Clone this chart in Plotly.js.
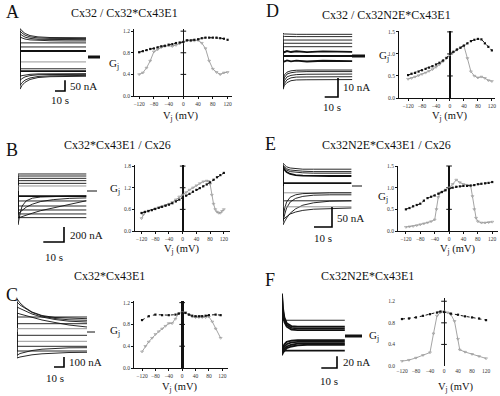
<!DOCTYPE html>
<html><head><meta charset="utf-8">
<script src="https://cdn.plot.ly/plotly-3.0.1.min.js"></script>
<style>html,body{margin:0;padding:0;background:#fff}#plot{width:500px;height:396px}</style>
</head><body><div id="plot"></div>
<script>
// ---------------- DATA ----------------
const V10 = [-120,-110,-100,-90,-80,-70,-60,-50,-40,-30,-20,-10,0,10,20,30,40,50,60,70,80,90,100,110,120];
const VTICKS = [-120,-80,-40,0,40,80,120];

// Panel A : Cx32 / Cx32*Cx43E1
const A_gBlack = [0.81,0.83,0.85,0.87,0.88,0.90,0.92,0.93,0.95,0.96,0.98,0.99,1.00,1.03,1.03,1.04,1.05,1.07,1.08,1.08,1.08,1.08,1.07,1.06,1.04];
const A_gGray  = [0.40,0.43,0.52,0.65,0.82,0.86,0.90,0.92,0.93,0.92,0.94,0.97,1.00,1.03,1.02,1.02,1.03,0.98,0.88,0.65,0.50,0.44,0.40,0.43,0.44];
// Panel D : Cx32 / Cx32N2E*Cx43E1
const D_gBlack = [0.52,0.55,0.57,0.60,0.63,0.66,0.69,0.72,0.76,0.80,0.85,0.91,1.00,1.05,1.10,1.14,1.19,1.24,1.29,1.32,1.34,1.33,1.24,1.16,1.08];
const D_gGray  = [0.43,0.45,0.48,0.51,0.54,0.57,0.61,0.65,0.70,0.76,0.83,0.90,0.99,1.04,1.09,1.14,1.18,0.90,0.60,0.50,0.46,0.48,0.45,0.40,0.38];
// Panel B : Cx32*Cx43E1 / Cx26
const B_gBlack = [0.50,0.53,0.55,0.58,0.61,0.64,0.67,0.70,0.73,0.77,0.82,0.87,0.93,0.98,1.03,1.09,1.14,1.19,1.24,1.29,1.35,1.42,1.49,1.55,1.61];
const B_vGray  = [-120,-115,-110,-100,-90,-80,-70,-60,-50,-40,-30,-20,-10,0,10,20,30,40,50,60,70,75,80,85,90,95,100,105,110,115,120];
const B_gGray  = [0.35,0.45,0.52,0.56,0.58,0.62,0.65,0.68,0.71,0.75,0.80,0.87,0.95,1.00,1.07,1.14,1.20,1.26,1.32,1.37,1.39,1.38,1.30,1.00,0.75,0.60,0.53,0.50,0.50,0.55,0.60];
// Panel E : Cx32N2E*Cx43E1 / Cx26
const E_gBlack = [0.50,0.53,0.57,0.60,0.63,0.70,0.76,0.79,0.82,0.86,0.90,0.94,0.97,1.00,1.02,1.03,1.04,1.04,1.05,1.06,1.08,1.09,1.10,1.11,1.13];
const E_vGray  = [-120,-110,-100,-90,-80,-70,-60,-50,-40,-35,-30,-25,-20,-10,0,10,20,30,40,50,60,65,70,75,80,90,100,110,120];
const E_gGray  = [0.09,0.10,0.11,0.13,0.15,0.17,0.19,0.22,0.26,0.50,0.78,0.88,0.90,0.95,1.00,1.08,1.18,1.12,1.08,1.06,1.04,0.80,0.50,0.30,0.22,0.19,0.19,0.20,0.21];
// Panel C : Cx32*Cx43E1
const C_vBlack = [-120,-100,-80,-60,-40,-20,-10,0,10,20,30,40,50,60,70,80,100,115];
const C_gBlack = [0.88,0.95,0.98,0.97,0.97,0.98,1.00,1.01,1.01,0.98,0.96,0.95,0.95,0.95,0.96,0.97,0.98,0.97];
const C_vGray  = [-120,-110,-100,-90,-80,-70,-60,-50,-40,-30,-20,-10,0,10,20,30,40,50,60,70,80,90,100,115];
const C_gGray  = [0.30,0.40,0.48,0.55,0.62,0.67,0.72,0.77,0.82,0.82,0.90,1.00,1.02,1.02,0.98,0.94,0.93,0.93,0.93,0.93,0.94,0.85,0.72,0.55];
// Panel F : Cx32N2E*Cx43E1
const F_vBlack = [-120,-100,-80,-60,-40,-20,-10,0,20,40,60,80,100,120];
const F_gBlack = [0.87,0.88,0.90,0.93,0.96,0.99,1.01,1.00,0.97,0.95,0.92,0.90,0.88,0.85];
const F_vGray  = [-120,-100,-80,-60,-40,-30,-20,-10,0,10,20,30,40,45,60,80,100,120];
const F_gGray  = [0.09,0.11,0.15,0.20,0.25,0.60,0.93,0.99,1.01,0.99,0.95,0.83,0.50,0.30,0.26,0.22,0.18,0.14];

// Current traces (time in s, current in nA)
const tA = [0,2,5,10,18,30,45,66];
const iA = [
 [133,122,110,100,94,91,90,90],
 [122,112,102,94,89,87,86,86],
 [109,101,93,87,83,82,81,81],
 [94,89,84,80,77,76,75,75],
 [66,66,66,66,66,66,66,66],
 [47,47,47,47,47,47,47,47],
 [28,28,28,28,28,28,28,28],
 [-23,-23,-23,-23,-23,-23,-23,-23],
 [-55,-55,-55,-55,-55,-55,-55,-55],
 [-66,-66,-66,-66,-66,-66,-66,-66],
 [-90,-87,-84,-81,-79,-78,-78,-78],
 [-109,-101,-93,-87,-83,-82,-81,-81],
 [-133,-120,-108,-98,-91,-88,-86,-86],
 [-150,-133,-118,-105,-96,-92,-90,-90]
];
const tD = [0,1,3,6,10,18,30,52];
const iD = [
 [11.9,11.6,11.5,11.4,11.4,11.4,11.4,11.4],
 [10.4,10.3,10.2,10.2,10.2,10.2,10.2,10.2],
 [8.4,8.4,8.4,8.4,8.4,8.4,8.4,8.4],
 [6.7,6.7,6.7,6.7,6.7,6.7,6.7,6.7],
 [4.9,4.9,4.9,4.9,4.9,4.9,4.9,4.9],
 [2.3,2.0,2.6,2.1,2.5,2.0,2.4,2.2],
 [0,0,0,0,0,0,0,0],
 [-2.6,-2.9,-2.3,-2.8,-2.4,-2.9,-2.5,-2.7],
 [-13.5,-10.0,-8.5,-7.8,-7.5,-7.4,-7.4,-7.4],
 [-15.0,-11.5,-9.5,-8.8,-8.4,-8.2,-8.2,-8.2],
 [-16.5,-13.0,-11.0,-10.2,-9.8,-9.6,-9.5,-9.5],
 [-17.0,-14.5,-12.5,-11.5,-11.1,-11.0,-10.9,-10.9],
 [-17.5,-15.5,-14.0,-13.0,-12.6,-12.5,-12.4,-12.4]
];
const tB = [0,1,2,4,7,11,17,25,33];
const iB = [
 [227,227,227,227,227,227,227,227,227],
 [200,200,200,200,200,200,200,200,200],
 [169,169,169,169,169,169,169,169,169],
 [138,138,138,138,138,138,138,138,138],
 [102,102,102,102,102,102,102,102,102],
 [67,67,67,67,67,67,67,67,67],
 [-67,-67,-67,-67,-67,-67,-67,-67,-67],
 [-133,-133,-133,-133,-133,-133,-133,-133,-133],
 [-200,-200,-200,-200,-200,-200,-200,-200,-200],
 [-253,-253,-253,-253,-253,-253,-253,-253,-253],
 [-306,-306,-306,-306,-306,-306,-306,-306,-306],
 [-355,-355,-355,-355,-355,-355,-355,-355,-355],
 [-450,-300,-200,-130,-95,-80,-72,-68,-67],
 [-310,-280,-255,-215,-175,-140,-115,-98,-92],
 [-360,-350,-340,-320,-295,-262,-225,-185,-130]
];
const tE = [0,1,2,4,7,11,17,26,38];
const iE = [
 [57,52,48,45,43,42,42,42,42],
 [52,47,43,40,38,37,36,36,36],
 [50,44,40,36,34,33,32,32,32],
 [47,40,35,30,27,26,25,25,25],
 [7,7,7,7,7,7,7,7,7],
 [-17,-17,-17,-17,-17,-17,-17,-17,-17],
 [-77,-55,-40,-28,-22,-19,-18,-17,-17],
 [-89,-70,-55,-40,-31,-26,-23,-22,-22],
 [-97,-88,-80,-68,-57,-48,-42,-38,-37],
 [-37,-37,-37,-37,-37,-37,-37,-37,-37],
 [-52,-52,-52,-52,-52,-52,-52,-52,-52],
 [-85,-80,-76,-70,-65,-61,-58,-56,-55]
];
const tC = [0,3,8,15,25,38,52,70];
const iC = [
 [333,290,245,200,165,145,137,133],
 [300,270,235,195,160,135,122,117],
 [250,235,210,180,150,125,108,100],
 [190,180,165,145,120,95,70,50],
 [150,150,150,150,150,150,150,150],
 [83,83,83,83,83,83,83,83],
 [33,33,33,33,33,33,33,33],
 [-33,-33,-33,-33,-33,-33,-33,-33],
 [-93,-93,-93,-93,-93,-93,-93,-93],
 [-143,-143,-143,-143,-143,-143,-143,-143],
 [-190,-190,-190,-190,-190,-190,-190,-190],
 [-233,-215,-200,-185,-172,-163,-158,-157],
 [-260,-250,-240,-228,-218,-210,-205,-203]
];
const tF = [0,0.5,1.5,3,6,10,16,25,40];
const iF = [
 [27,27,27,27,27,27,27,27,27],
 [73,50,32,22,17,16,16,16,16],
 [70,45,28,19,14,13,13,13,13],
 [65,40,24,16,11,10,10,10,10],
 [-27,-20,-14,-10,-8,-7,-7,-7,-7],
 [-30,-24,-18,-14,-11,-10,-10,-10,-10],
 [-32,-27,-22,-18,-15,-13,-13,-13,-13],
 [-33,-29,-25,-21,-18,-16,-15,-15,-15],
 [-25,-25,-25,-25,-25,-25,-25,-25,-25]
];

// ---------------- LAYOUT HELPERS ----------------
const W = 500, H = 396;
const FONT = '"Liberation Serif", "DejaVu Serif", serif';
const layout = {width:W, height:H, margin:{l:0,r:0,t:0,b:0}, paper_bgcolor:'#fff',
  plot_bgcolor:'rgba(0,0,0,0)', showlegend:false, annotations:[], shapes:[], hovermode:false};
const data = [];
let axCount = 0;
function addAxes(box, xo, yo){
  axCount++;
  const s = axCount === 1 ? '' : String(axCount);
  layout['xaxis'+s] = Object.assign({domain:[box[0]/W, box[1]/W], anchor:'y'+s, fixedrange:true}, xo);
  layout['yaxis'+s] = Object.assign({domain:[1-box[3]/H, 1-box[2]/H], anchor:'x'+s, fixedrange:true}, yo);
  return {x:'x'+s, y:'y'+s};
}
function note(text, px, py, size, opts){
  layout.annotations.push(Object.assign({text:text, x:px/W, y:1-py/H, xref:'paper', yref:'paper',
    showarrow:false, xanchor:'center', yanchor:'middle', font:{family:FONT, size:size, color:'#111'}}, opts||{}));
}

// ---------------- G-V PANELS ----------------
const gvPanels = [
 {box:[134,232,29,96],  xr:[-134,132], yr:[0,1.24], yt:[0,0.4,0.8,1.2], line:true, zw:1.5,
  vb:V10, gb:A_gBlack, vg:V10, gg:A_gGray, gj:[114,64], vj:[181,116]},
 {box:[399,495,31,98],  xr:[-146,129], yr:[0,1.52], yt:[0,0.5,1.0,1.5], line:true, zw:2,
  vb:V10, gb:D_gBlack, vg:V10, gg:D_gGray, gj:[384,56], vj:[450,117]},
 {box:[135,230,165,231], xr:[-139,138], yr:[0,1.83], yt:[0,0.6,1.2,1.8], line:true, zw:2,
  vb:V10, gb:B_gBlack, vg:B_vGray, gg:B_gGray, gj:[115,189], vj:[182,249]},
 {box:[398,498,166,231], xr:[-142,136], yr:[0,1.5], yt:[0,0.5,1.0,1.5], line:true, zw:1.5,
  vb:V10, gb:E_gBlack, vg:E_vGray, gg:E_gGray, gj:[383,197], vj:[458,250]},
 {box:[134,228,301,368], xr:[-144,137], yr:[0,1.23], yt:[0,0.4,0.8,1.2], line:true, zw:3,
  vb:C_vBlack, gb:C_gBlack, vg:C_vGray, gg:C_gGray, gj:[115,331], vj:[180,387]},
 {box:[396,492,298,366], xr:[-137,137], yr:[0,1.26], yt:[0,0.4,0.8,1.2], line:false, zw:1,
  vb:F_vBlack, gb:F_gBlack, vg:F_vGray, gg:F_gGray, gj:[374,336], vj:[456,387]}
];
const tickFont = {family:FONT, size:5.5, color:'#333'};
gvPanels.forEach(p => {
  const ax = addAxes(p.box,
    {range:p.xr, tickvals:VTICKS, showline:p.line, linecolor:'#111', linewidth:1,
     ticks:p.line?'outside':'', ticklen:2, tickcolor:'#111', tickfont:tickFont, showgrid:false,
     zeroline:true, zerolinecolor:'#111', zerolinewidth:p.zw},
    {range:p.yr, tickvals:p.yt, tickformat:'.1f', showline:p.line, linecolor:'#111', linewidth:1,
     ticks:p.line?'outside':'', ticklen:2, tickcolor:'#111', tickfont:tickFont, showgrid:false,
     zeroline:false});
  data.push({type:'scatter', mode:'markers', x:p.yt.slice(1).map(()=>0), y:p.yt.slice(1),
    xaxis:ax.x, yaxis:ax.y, marker:{symbol:'line-ew', size:4, line:{width:1, color:'#111'}}, cliponaxis:false});
  data.push({type:'scatter', mode:'lines+markers', x:p.vg, y:p.gg, xaxis:ax.x, yaxis:ax.y,
    line:{color:'#9a9a9a', width:0.9}, marker:{symbol:'triangle-down-open', size:2.5, color:'#9a9a9a', line:{width:0.7}}, cliponaxis:false});
  data.push({type:'scatter', mode:'lines+markers', x:p.vb, y:p.gb, xaxis:ax.x, yaxis:ax.y,
    line:{color:'#111', width:1, dash:'dot'}, marker:{symbol:'square', size:2.2, color:'#111'}, cliponaxis:false});
  note('G<sub>j</sub>', p.gj[0], p.gj[1], 11);
  note('V<sub>j</sub> (mV)', p.vj[0], p.vj[1], 10.5);
});

// ---------------- CURRENT TRACE PANELS ----------------
const tracePanels = [
 {t:tA, I:iA, st:'kkkkkktgktkkkk', box:[20,101,25,93], x0:20, pps:1.0, yc:57, ppn:0.214,
  hold:[88,100,3], sb:[65,91], sbI:50, sbT:10, iLab:['50 nA',68,86], tLab:[60,100]},
 {t:tD, I:iD, st:'kkkkktttkkkkk', box:[283,366,30,99], x0:283, pps:1.33, yc:56, ppn:1.9,
  hold:[352,365,3], sb:[338,97], sbI:10, sbT:10, iLab:['10 nA',341,87], tLab:[332,107]},
 {t:tB, I:iB, st:'kkkkkgtkkkkkkkk', box:[18,98,170,244], x0:18, pps:2.07, yc:191, ppn:0.075,
  hold:[87,97,1], sb:[64,242], sbI:200, sbT:10, iLab:['200 nA',68,235], tLab:[54,257]},
 {t:tE, I:iE, st:'kkkttgkkkkgk', box:[283,363,160,229], x0:283, pps:1.8, yc:186, ppn:0.4,
  hold:[352,362,1], sb:[332,227], sbI:50, sbT:10, iLab:['50 nA',335,218], tLab:[323,238]},
 {t:tC, I:iC, st:'kkkkkkgkgkkkk', box:[17,96,296,369], x0:17, pps:1.0, yc:332, ppn:0.1,
  hold:[87,95,1], sb:[64,367], sbI:100, sbT:10, iLab:['100 nA',67,362], tLab:[55,378]},
 {t:tF, I:iF, st:'kttttttttk', box:[282,363,290,370], x0:282, pps:1.57, yc:336, ppn:0.583,
  hold:[345,362,3], sb:[337,368], sbI:20, sbT:10, iLab:['20 nA',341,362], tLab:[329,381]}
];
tracePanels.forEach(p => {
  const xr = [(p.box[0]-p.x0)/p.pps, (p.box[1]-p.x0)/p.pps];
  const yr = [(p.yc-p.box[3])/p.ppn, (p.yc-p.box[2])/p.ppn];
  const ax = addAxes(p.box, {range:xr, visible:false, showgrid:false, zeroline:false},
                            {range:yr, visible:false, showgrid:false, zeroline:false});
  p.I.forEach((vals, k) => {
    const s = p.st[k] || 'k';
    data.push({type:'scatter', mode:'lines', x:[0].concat(p.t), y:[0].concat(vals), xaxis:ax.x, yaxis:ax.y,
      line:{color: s==='g' ? '#8a8a8a' : '#111', width: s==='t' ? 1.8 : 0.9}});
  });
  const h0 = (p.hold[0]-p.x0)/p.pps, h1 = (p.hold[1]-p.x0)/p.pps;
  data.push({type:'scatter', mode:'lines', x:[h0,h1], y:[0,0], xaxis:ax.x, yaxis:ax.y,
    line:{color:'#111', width:p.hold[2]}});
  const ts = (p.sb[0]-p.x0)/p.pps, is = (p.yc-p.sb[1])/p.ppn;
  data.push({type:'scatter', mode:'lines', x:[ts-p.sbT, ts, ts], y:[is, is, is+p.sbI], xaxis:ax.x, yaxis:ax.y,
    line:{color:'#000', width:1.6}});
  note(p.iLab[0], p.iLab[1], p.iLab[2], 11, {xanchor:'left'});
  note('10 s', p.tLab[0], p.tLab[1], 11);
});

// ---------------- TITLES AND LETTERS ----------------
note('Cx32 / Cx32*Cx43E1', 124, 13, 12);
note('Cx32 / Cx32N2E*Cx43E1', 386, 15, 12);
note('Cx32*Cx43E1 / Cx26', 117, 145, 12);
note('Cx32N2E*Cx43E1 / Cx26', 386, 145, 12);
note('Cx32*Cx43E1', 109, 276, 12);
note('Cx32N2E*Cx43E1', 367, 276, 12);
note('A', 12, 12, 18); note('D', 272, 11, 18);
note('B', 12, 150, 18); note('E', 270, 144, 18);
note('C', 12, 295, 18); note('F', 270, 280, 18);

Plotly.newPlot('plot', data, layout, {staticPlot:true, displayModeBar:false});
</script></body></html>
